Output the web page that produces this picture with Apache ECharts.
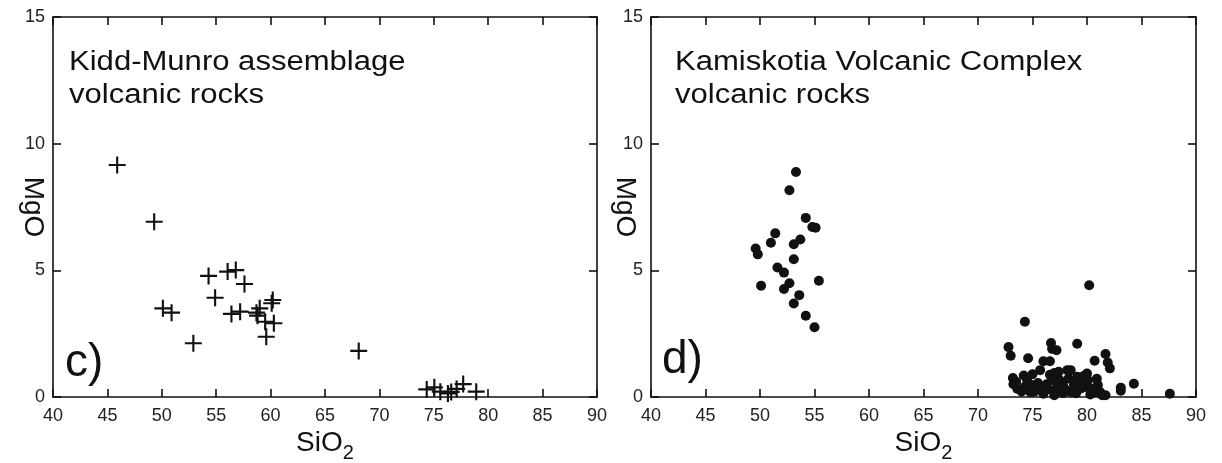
<!DOCTYPE html>
<html>
<head>
<meta charset="utf-8">
<script src="https://cdn.jsdelivr.net/npm/echarts@6/dist/echarts.min.js"></script>
<style>
html, body { margin: 0; padding: 0; background: #fff; }
#main { width: 1222px; height: 463px; }
</style>
</head>
<body>
<div id="main"></div>
<script>
// axis ranges (SiO2 along x, MgO along y)
var siMin = 40, siMax = 90, siStep = 5;
var mgMin = 0, mgMax = 15, mgStep = 5;

// c) Kidd-Munro assemblage
var kiddSiO2 = [45.9, 49.3, 54.3, 54.9, 50.1, 50.9, 52.9, 56.05, 56.8, 57.6,
    56.4, 57.2, 58.7, 59.0, 60.2, 60.1, 59.5, 60.3, 59.6, 58.8,
    68.1, 74.35, 75.05, 75.6, 76.3, 76.6, 77.7, 77.1, 78.9];
var kiddMgO = [9.16, 6.92, 4.78, 3.92, 3.5, 3.33, 2.12, 4.95, 5.01, 4.46,
    3.28, 3.37, 3.33, 3.5, 3.83, 3.7, 2.97, 2.91, 2.38, 3.21,
    1.82, 0.3, 0.38, 0.21, 0.14, 0.2, 0.51, 0.32, 0.21];

// d) Kamiskotia Volcanic Complex
var kamSiO2 = [53.3, 52.7, 54.2, 54.8, 55.1, 51.4, 53.7, 53.1, 51.0, 49.6,
    49.8, 53.1, 51.6, 52.2, 55.4, 50.1, 52.7, 52.2, 53.6, 53.1,
    54.2, 55.0,
    80.2, 74.3, 72.8, 73.0, 76.7, 76.8, 77.2, 79.1, 74.6, 81.7,
    80.7, 81.9, 82.1, 76.0, 76.6, 75.7, 83.1, 83.1, 84.3, 87.6,
    73.2, 73.25, 73.6, 74.2, 74.5, 74.0, 74.9, 75.2, 75.7, 76.2,
    76.6, 76.8, 76.9, 77.0, 77.4, 77.5, 77.8, 78.2, 78.5, 78.3,
    78.5, 78.8, 79.1, 79.4, 79.7, 80.0, 80.1, 79.8, 80.5, 80.9,
    81.0, 80.8, 81.2, 81.7, 81.4, 76.0, 77.8, 74.8, 73.5, 74.3,
    75.5, 76.3, 77.2, 78.0, 79.0, 79.5, 80.3, 75.0, 77.0];
var kamMgO = [8.88, 8.16, 7.07, 6.71, 6.68, 6.46, 6.22, 6.03, 6.09, 5.86,
    5.63, 5.44, 5.11, 4.91, 4.59, 4.39, 4.49, 4.26, 4.02, 3.69,
    3.21, 2.75,
    4.41, 2.97, 1.97, 1.63, 2.13, 1.9, 1.85, 2.1, 1.53, 1.7,
    1.43, 1.36, 1.13, 1.41, 1.41, 1.06, 0.37, 0.25, 0.52, 0.13,
    0.75, 0.5, 0.33, 0.85, 0.68, 0.22, 0.47, 0.22, 0.4, 0.27,
    0.88, 0.66, 0.25, 0.07, 1.0, 0.66, 0.47, 1.06, 1.06, 0.73,
    0.2, 0.47, 0.8, 0.66, 0.83, 0.93, 0.66, 0.4, 0.33, 0.72,
    0.47, 0.2, 0.2, 0.07, 0.07, 0.13, 0.16, 0.2, 0.6, 0.4,
    0.55, 0.5, 0.35, 0.3, 0.15, 0.35, 0.1, 0.9, 0.95];

var panelTitles = ['Kidd-Munro assemblage\nvolcanic rocks', 'Kamiskotia Volcanic Complex\nvolcanic rocks'];
var panelLetters = ['c)', 'd)'];

var FONT = '"Liberation Sans", Arial, Helvetica, sans-serif';
var INK = '#111';

var zip = function (xs, ys) {
    return xs.map(function (x, i) { return [x, ys[i]]; });
};

var lineStyle = { color: INK, width: 1.6 };

var makeX = function (gridIndex, pos) {
    var bottom = pos === 'bottom';
    return {
        type: 'value',
        gridIndex: gridIndex,
        position: pos,
        min: siMin, max: siMax, interval: siStep,
        name: bottom ? '{a|SiO}{b|2}' : '',
        nameLocation: 'middle',
        nameGap: 26,
        nameMoveOverlap: false,
        nameTextStyle: {
            color: INK,
            rich: {
                a: { fontFamily: FONT, fontSize: 28, color: INK },
                b: { fontFamily: FONT, fontSize: 20, color: INK, padding: [20, 0, 0, 0] }
            }
        },
        axisLine: { show: true, onZero: false, lineStyle: lineStyle },
        axisTick: { show: true, inside: true, length: 8, lineStyle: lineStyle },
        axisLabel: {
            show: bottom, margin: 10, color: '#222', fontFamily: FONT, fontSize: 18,
            showMinLabel: true, showMaxLabel: true
        },
        splitLine: { show: false }
    };
};

var makeY = function (gridIndex, pos, gap) {
    var left = pos === 'left';
    return {
        type: 'value',
        gridIndex: gridIndex,
        position: pos,
        min: mgMin, max: mgMax, interval: mgStep,
        name: left ? 'MgO' : '',
        nameLocation: 'middle',
        nameRotate: -90,
        nameGap: gap,
        nameMoveOverlap: false,
        nameTextStyle: { color: INK, fontFamily: FONT, fontSize: 28 },
        axisLine: { show: true, onZero: false, lineStyle: lineStyle },
        axisTick: { show: true, inside: true, length: 8, lineStyle: lineStyle },
        axisLabel: {
            show: left, margin: 8, color: '#222', fontFamily: FONT, fontSize: 18,
            showMinLabel: true, showMaxLabel: true
        },
        splitLine: { show: false }
    };
};

var crossPath = 'path://M7,0h2v16h-2zM0,7h16v2h-16z';

// text drawn a little wider than tall, like the scanned figure
var textEl = function (x, y, text, size, lh, sx) {
    return {
        type: 'text',
        x: x,
        y: y,
        scaleX: sx,
        silent: true,
        style: {
            text: text, fill: INK, font: size + 'px ' + FONT,
            lineHeight: lh, verticalAlign: 'top', align: 'left'
        }
    };
};

var getOption = function () {
    return {
        backgroundColor: '#fff',
        animation: false,
        grid: [
            { left: 53, top: 17, width: 544, height: 380, outerBoundsMode: 'none' },
            { left: 651, top: 17, width: 545, height: 380, outerBoundsMode: 'none' }
        ],
        xAxis: [makeX(0, 'bottom'), makeX(0, 'top'), makeX(1, 'bottom'), makeX(1, 'top')],
        yAxis: [makeY(0, 'left', 6), makeY(0, 'right', 0), makeY(1, 'left', 12), makeY(1, 'right', 0)],
        graphic: [
            textEl(69, 46, panelTitles[0], 27, 33, 1.15),
            textEl(675, 46, panelTitles[1], 27, 33, 1.15),
            textEl(65, 340, panelLetters[0], 46, 46, 1),
            textEl(662, 337, panelLetters[1], 46, 46, 1)
        ],
        series: [
            {
                name: 'Kidd-Munro',
                type: 'scatter',
                xAxisIndex: 0, yAxisIndex: 0,
                symbol: crossPath,
                symbolSize: 17,
                itemStyle: { color: INK, opacity: 1 },
                data: zip(kiddSiO2, kiddMgO)
            },
            {
                name: 'Kamiskotia',
                type: 'scatter',
                xAxisIndex: 2, yAxisIndex: 2,
                symbol: 'circle',
                symbolSize: 10,
                itemStyle: { color: INK, opacity: 1 },
                data: zip(kamSiO2, kamMgO)
            }
        ]
    };
};

var myChart = echarts.init(document.getElementById('main'));
myChart.setOption(getOption());
window.onresize = myChart.resize;
</script>
</body>
</html>
